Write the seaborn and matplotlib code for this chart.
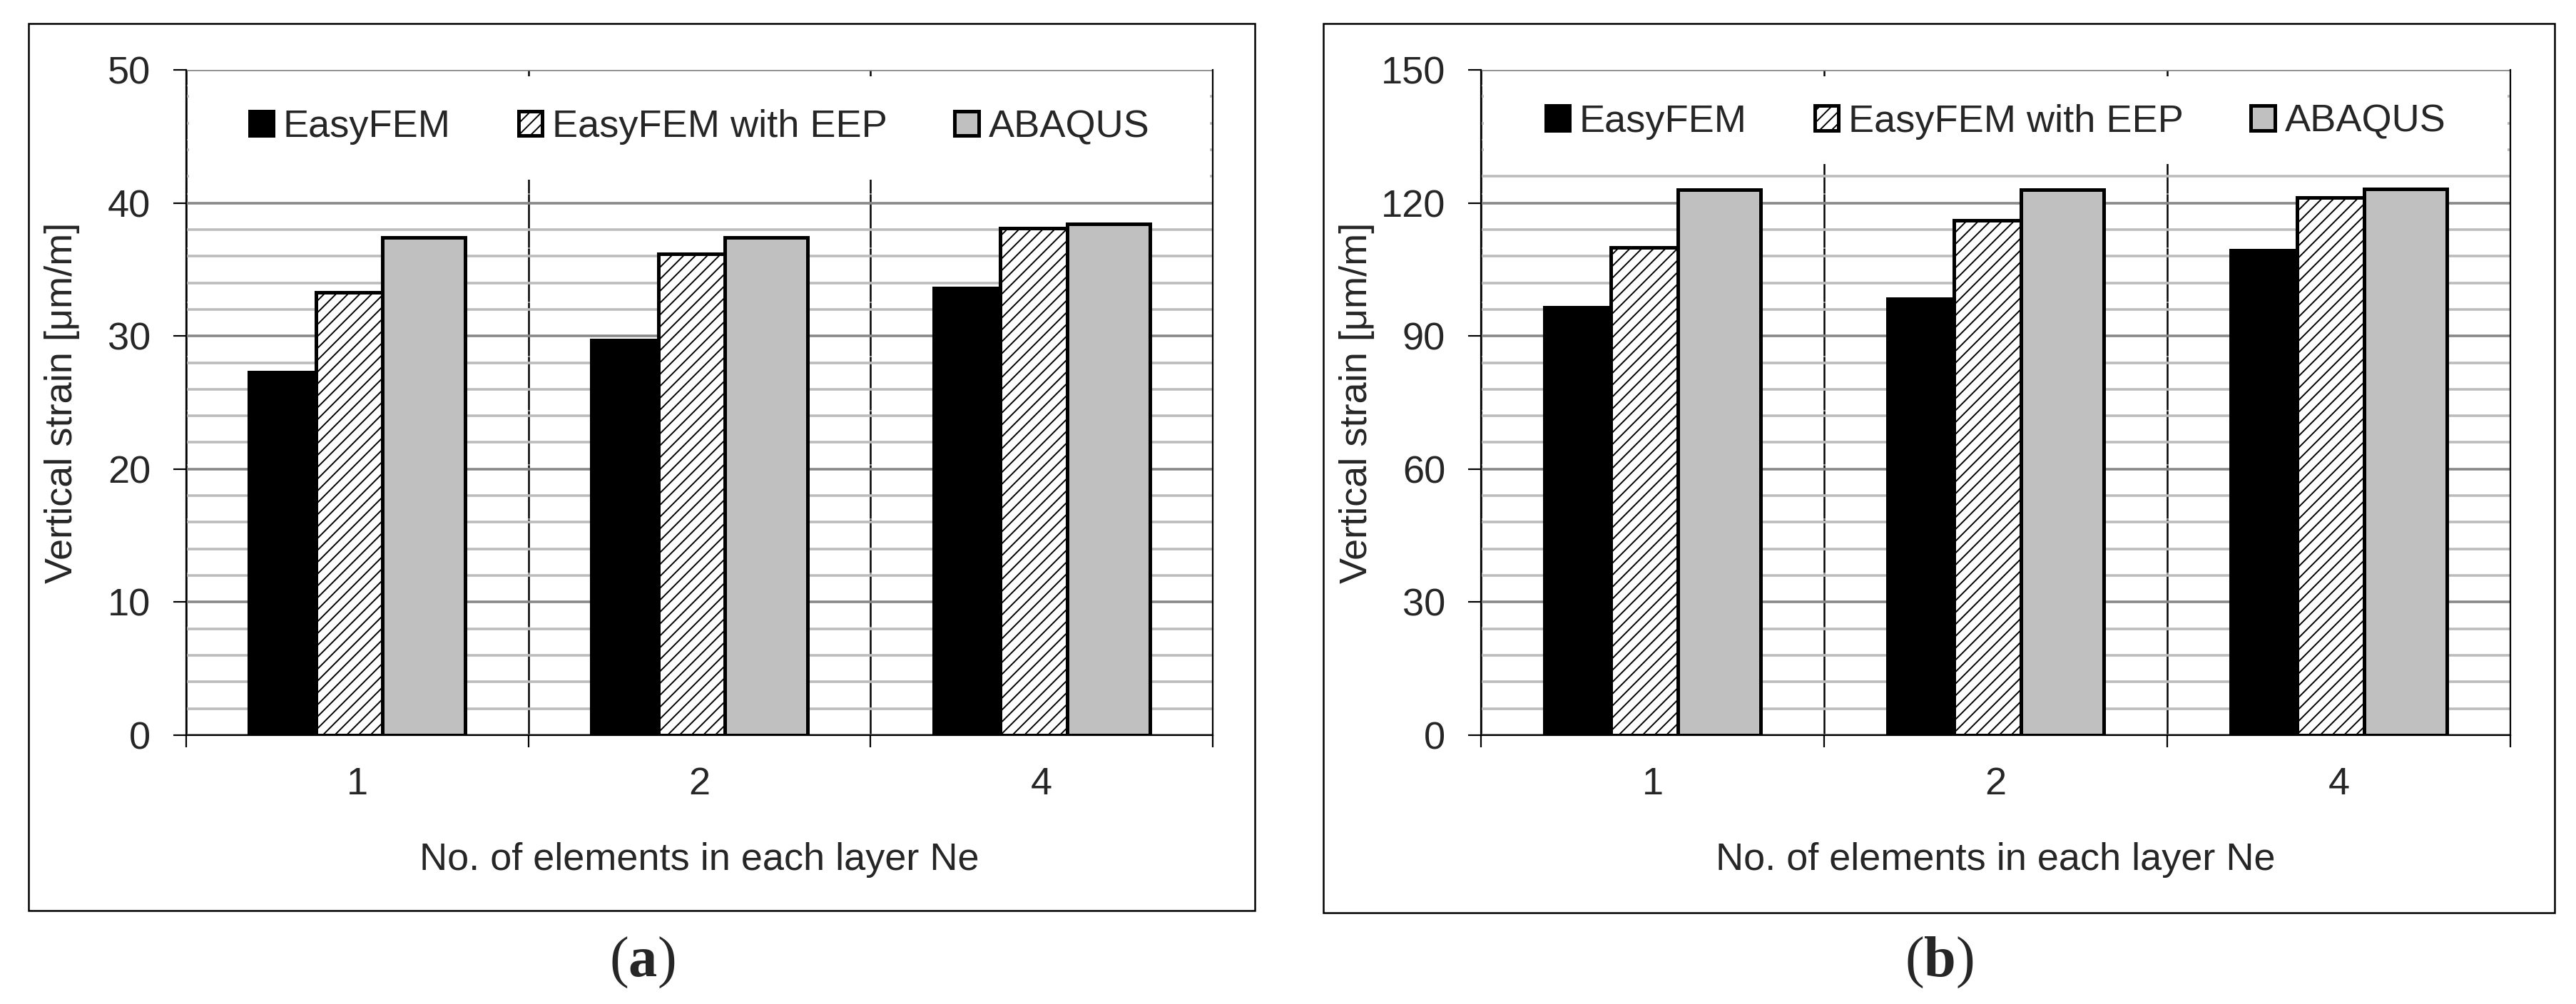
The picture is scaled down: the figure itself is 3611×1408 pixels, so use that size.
import numpy as np
import pandas as pd
import matplotlib.pyplot as plt
import seaborn as sns
from matplotlib.patches import Rectangle
from matplotlib.ticker import MultipleLocator

# Categories
ne_labels = ["1", "2", "4"]
methods = ["EasyFEM", "EasyFEM with EEP", "ABAQUS"]

# Panel (a) values
easyfem_a = [27.3, 29.7, 33.6]
eep_a = [33.3, 36.2, 38.1]
abaqus_a = [37.4, 37.4, 38.4]

# Panel (b) values
easyfem_b = [96.5, 98.4, 109.3]
eep_b = [110.0, 116.1, 121.2]
abaqus_b = [123.0, 123.0, 123.1]

yticks_a = [0, 10, 20, 30, 40, 50]
yticks_b = [0, 30, 60, 90, 120, 150]

palette = {"EasyFEM": "black", "EasyFEM with EEP": "white", "ABAQUS": "#c0c0c0"}


def long_df(e, p, q):
    return pd.DataFrame({
        "Ne": ne_labels * 3,
        "Method": np.repeat(methods, 3),
        "Strain": e + p + q,
    })


sns.set_style("ticks")
plt.rcParams["font.family"] = ["Liberation Sans", "DejaVu Sans"]
plt.rcParams["hatch.linewidth"] = 0.7
plt.rcParams["mathtext.fontset"] = "custom"
plt.rcParams["mathtext.rm"] = "Liberation Serif"
plt.rcParams["mathtext.bf"] = "Liberation Serif:bold"

FS = 19.5
fig = plt.figure(figsize=(18.055, 7.04), dpi=200)


def draw(ax, df, yticks, minor_step, legend_y, cover_bottom):
    sns.barplot(data=df, x="Ne", y="Strain", hue="Method", hue_order=methods,
                palette=palette, saturation=1, errorbar=None, width=0.585,
                gap=-0.24, edgecolor="black", linewidth=1.8, legend=False, ax=ax)
    for p in ax.containers[1]:
        p.set_hatch("////")

    ax.set_axisbelow(True)
    ax.set_xlim(-0.5, 2.5)
    ax.set_ylim(0, yticks[-1])
    ax.set_yticks(yticks)
    ax.yaxis.set_minor_locator(MultipleLocator(minor_step))
    ax.set_xticks([-0.5, 0.5, 1.5, 2.5], minor=True)

    ax.tick_params(axis="y", which="major", length=6.5, width=0.8, direction="out",
                   pad=11.5, labelsize=FS, color="black")
    ax.tick_params(axis="y", which="minor", length=0)
    ax.tick_params(axis="x", which="major", length=0, pad=16, labelsize=FS)
    ax.tick_params(axis="x", which="minor", length=6, width=0.8, direction="out",
                   color="black")

    ax.grid(which="major", axis="y", color="#888888", lw=1.3)
    ax.grid(which="minor", axis="y", color="#bcbcbc", lw=1.3)
    ax.grid(which="minor", axis="x", color="black", lw=0.9, ls=(0, (30, 0.4)))

    ax.spines["top"].set_visible(False)
    for s in ["left", "right", "bottom"]:
        ax.spines[s].set_color("black")
        ax.spines[s].set_linewidth(0.8)

    ax.set_xlabel("No. of elements in each layer Ne", fontsize=FS, va="center")
    ax.xaxis.set_label_coords(0.5, -0.1876)
    ax.set_ylabel("Vertical strain [μm/m]", fontsize=FS, va="center")
    ax.yaxis.set_label_coords(-0.1206, 0.5)

    # white area behind the legend
    ax.add_patch(Rectangle((0.003, cover_bottom), 0.994, 0.990 - cover_bottom,
                           transform=ax.transAxes, fc="white", ec="none", zorder=0.8))
    ax.legend(handles=ax.containers, labels=methods, ncol=3, loc="center",
              bbox_to_anchor=(0.5, legend_y), frameon=False, fontsize=FS,
              handlelength=0.62, handleheight=0.6, handletextpad=0.25,
              columnspacing=1.75, borderpad=0, borderaxespad=0)


ax_a = fig.add_axes([0.07228, 0.26776, 0.39850, 0.66264])
ax_b = fig.add_axes([0.57491, 0.26776, 0.39961, 0.66264])

draw(ax_a, long_df(easyfem_a, eep_a, abaqus_a), yticks_a, 2, 0.914, 0.835)
draw(ax_b, long_df(easyfem_b, eep_b, abaqus_b), yticks_b, 6, 0.922, 0.859)

# panel frames
fig.add_artist(Rectangle((0.01108, 0.09304), 0.47604, 0.88352, transform=fig.transFigure,
                         fill=False, ec="black", lw=0.9))
fig.add_artist(Rectangle((0.51371, 0.09091), 0.47798, 0.88565, transform=fig.transFigure,
                         fill=False, ec="black", lw=0.9))

fig.text(0.2492, 0.0412, r"$\mathrm{(}\mathbf{a}\mathrm{)}$", fontsize=29,
         ha="center", va="center")
fig.text(0.7527, 0.0412, r"$\mathrm{(}\mathbf{b}\mathrm{)}$", fontsize=29,
         ha="center", va="center")

fig.savefig("out.png", dpi=200, facecolor="white")
